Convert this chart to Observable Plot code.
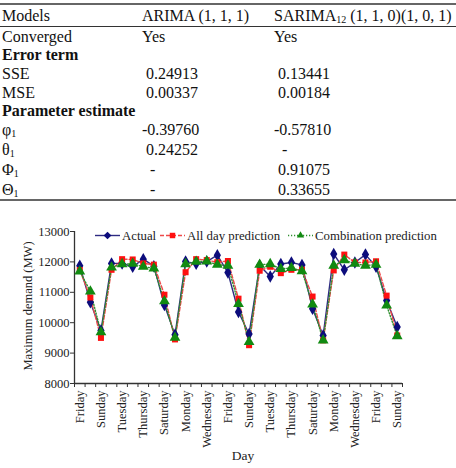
<!DOCTYPE html>
<html>
<head>
<meta charset="utf-8">
<script src="https://cdn.jsdelivr.net/npm/d3@7"></script>
<script src="https://cdn.jsdelivr.net/npm/@observablehq/plot@0.6"></script>
<style>
  html, body { margin: 0; padding: 0; background: #fff; }
  body {
    width: 456px; height: 468px; position: relative; overflow: hidden;
    font-family: "Liberation Serif", "Times New Roman", serif; color: #111;
  }
  #tbl {
    position: absolute; left: 0; top: 3px; width: 456px;
    border-collapse: collapse; table-layout: fixed; font-size: 16px;
  }
  #tbl th, #tbl td {
    padding: 0; text-align: left; font-weight: normal; white-space: pre;
    height: 19px; line-height: 19px; overflow: visible;
  }
  #tbl th:first-child, #tbl td:first-child { padding-left: 2px; }
  #tbl thead tr { border-top: 2px solid #666; border-bottom: 1px solid #333; }
  #tbl thead th { height: 21px; line-height: 21px; }
  #tbl tbody tr:last-child { border-bottom: 2px solid #666; }
  #tbl tr.group td { font-weight: bold; height: 18px; line-height: 18px; }
  #tbl tr.param td { height: 20px; line-height: 20px; }
  #tbl sub { font-size: 10px; vertical-align: -2px; line-height: 0; }
  #chart { position: absolute; left: 0; top: 220px; }
  #chart svg, #chart svg text { font-family: "Liberation Serif", "Times New Roman", serif !important; }
  #legend { position: absolute; left: 0; top: 226px; }
</style>
</head>
<body>
<table id="tbl">
  <colgroup><col style="width:142px"><col style="width:132px"><col></colgroup>
  <thead></thead>
  <tbody></tbody>
</table>
<div id="chart"></div>
<svg id="legend" width="456" height="20"></svg>
<script>
// ---- Model comparison table ----
const tableHeader = ["Models", "ARIMA (1, 1, 1)", "SARIMA<sub>12</sub> (1, 1, 0)(1, 0, 1)"];
const rowLabels   = ["Converged", "Error term", "SSE", "MSE", "Parameter estimate",
                     "φ<sub>1</sub>", "θ<sub>1</sub>", "Φ<sub>1</sub>", "Θ<sub>1</sub>"];
const arimaCol    = ["Yes", null, " 0.24913", " 0.00337", null, "-0.39760", " 0.24252", "  -", "  -"];
const sarimaCol   = ["Yes", null, " 0.13441", " 0.00184", null, "-0.57810", "  -", " 0.91075", " 0.33655"];

// ---- Daily maximum demand (MW) ----
const days = ["Friday", "Saturday", "Sunday", "Monday", "Tuesday", "Wednesday", "Thursday",
              "Friday", "Saturday", "Sunday", "Monday", "Tuesday", "Wednesday", "Thursday",
              "Friday", "Saturday", "Sunday", "Monday", "Tuesday", "Wednesday", "Thursday",
              "Friday", "Saturday", "Sunday", "Monday", "Tuesday", "Wednesday", "Thursday",
              "Friday", "Saturday", "Sunday"];
const actual = [11870, 10670, 9740, 11950, 11950, 11840, 12090, 11860, 10580, 9600,
                12010, 11940, 12010, 12220, 11650, 10350, 9630, 11880, 11520, 11930,
                11980, 11900, 10460, 9580, 12260, 11740, 11980, 12240, 11840, 10730, 9860];
const allDay = [11730, 10830, 9500, 11740, 12090, 12080, 11950, 11910, 10920, 9450,
                11660, 12090, 12060, 11990, 12030, 10790, 9260, 11710, 11840, 11630,
                11740, 11740, 10860, 9420, 11720, 12240, 11980, 11980, 12020, 10890, 9580];
const combo  = [11690, 11030, 9690, 11820, 11930, 11940, 11840, 11790, 10710, 9510,
                11930, 12010, 12020, 11910, 11880, 10620, 9370, 11910, 11930, 11770,
                11800, 11700, 10600, 9420, 11880, 12060, 11940, 11880, 11910, 10570, 9560];
const seriesNames = ["Actual", "All day prediction", "Combination prediction"];
const yTicks = [8000, 9000, 10000, 11000, 12000, 13000];
const yTitle = "Maximum demand (MW)";
const xTitle = "Day";

// ---- build table ----
const thead = document.querySelector("#tbl thead");
const tbody = document.querySelector("#tbl tbody");
thead.innerHTML = "<tr>" + tableHeader.map(h => `<th>${h}</th>`).join("") + "</tr>";
rowLabels.forEach((label, i) => {
  const tr = document.createElement("tr");
  if (arimaCol[i] === null) {
    tr.className = "group";
    tr.innerHTML = `<td colspan="3">${label}</td>`;
  } else {
    if (label.includes("<sub>") && i < rowLabels.length - 1) tr.className = "param";
    tr.innerHTML = `<td>${label}</td><td>${arimaCol[i]}</td><td>${sarimaCol[i]}</td>`;
  }
  tbody.appendChild(tr);
});

// ---- chart ----
const rows = days.map((day, i) => ({i, day, actual: actual[i], allDay: allDay[i], combo: combo[i]}));
const styles = [
  {key: "actual", line: "#2e2b82", fill: "#0c0c7c", dash: null, symbol: "diamond", r: 3.8},
  {key: "allDay", line: "#ee4a4a", fill: "#ff1010", dash: "4,2", symbol: "square", r: 3.4},
  {key: "combo",  line: "#2f8f2f", fill: "#118a11", dash: "1.2,1.8", symbol: "triangle", r: 4}
];
const axisColor = "#333";
const font = "Liberation Serif";

const chart = Plot.plot({
  width: 456,
  height: 248,
  marginLeft: 74,
  marginRight: 54,
  marginTop: 11,
  marginBottom: 85,
  style: {fontFamily: font, fontSize: "12px", color: "#222", background: "transparent"},
  x: {domain: [-0.5, days.length - 0.5], axis: null},
  y: {domain: [8000, 13000], axis: null},
  marks: [
    Plot.axisY({ticks: yTicks, tickSize: 4, tickPadding: 1, tickFormat: d => String(d),
                label: null, stroke: axisColor, fontSize: 12.5}),
    Plot.ruleX([-0.5], {y1: 8000, y2: 13000, stroke: axisColor, strokeWidth: 1.3}),
    Plot.ruleY([8000], {stroke: axisColor, strokeWidth: 1.3}),
    Plot.axisX({ticks: d3.range(-0.5, days.length, 1), tickSize: 4, tickFormat: () => "",
                label: null, stroke: axisColor}),
    Plot.axisX({ticks: d3.range(0, days.length, 2), tickSize: 0, tickPadding: 7, tickRotate: -90,
                tickFormat: i => days[i], label: null, fontSize: 12.5}),
    ...styles.map(s => Plot.line(rows, {x: "i", y: s.key, stroke: s.line, strokeWidth: 1.4,
                strokeDasharray: s.dash})),
    ...styles.map(s => Plot.dot(rows, {x: "i", y: s.key, symbol: s.symbol, r: s.r,
                fill: s.fill, stroke: "none"}))
  ]
});
document.getElementById("chart").appendChild(chart);

// axis titles
const svg = d3.select(chart);
svg.append("text")
  .attr("transform", "translate(28,86) rotate(-90)")
  .attr("text-anchor", "middle").attr("dy", "0.35em")
  .attr("font-size", 12.5).attr("fill", "#222")
  .text(yTitle);
svg.append("text")
  .attr("x", 243).attr("y", 240).attr("text-anchor", "middle")
  .attr("font-size", 13.5).attr("fill", "#222")
  .text(xTitle);

// ---- legend ----
const legend = d3.select("#legend");
const legendX = [95, 160, 288];   // left end of each swatch
const swatchW = 25;
const cy = 9.5;
const symbolTypes = {diamond: d3.symbolDiamond2, square: d3.symbolSquare2, triangle: d3.symbolTriangle2};
styles.forEach((s, k) => {
  const x0 = legendX[k];
  legend.append("line")
    .attr("x1", x0).attr("x2", x0 + swatchW).attr("y1", cy).attr("y2", cy)
    .attr("stroke", s.line).attr("stroke-width", 1.4)
    .attr("stroke-dasharray", s.dash);
  legend.append("path")
    .attr("d", d3.symbol(symbolTypes[s.symbol], 38)())
    .attr("transform", `translate(${x0 + swatchW / 2},${cy})`)
    .attr("fill", s.fill);
  legend.append("text")
    .attr("x", x0 + swatchW + 2).attr("y", cy).attr("dy", "0.33em")
    .attr("font-family", "Liberation Serif").attr("font-size", 12.8).attr("fill", "#222")
    .text(seriesNames[k]);
});
</script>
</body>
</html>
